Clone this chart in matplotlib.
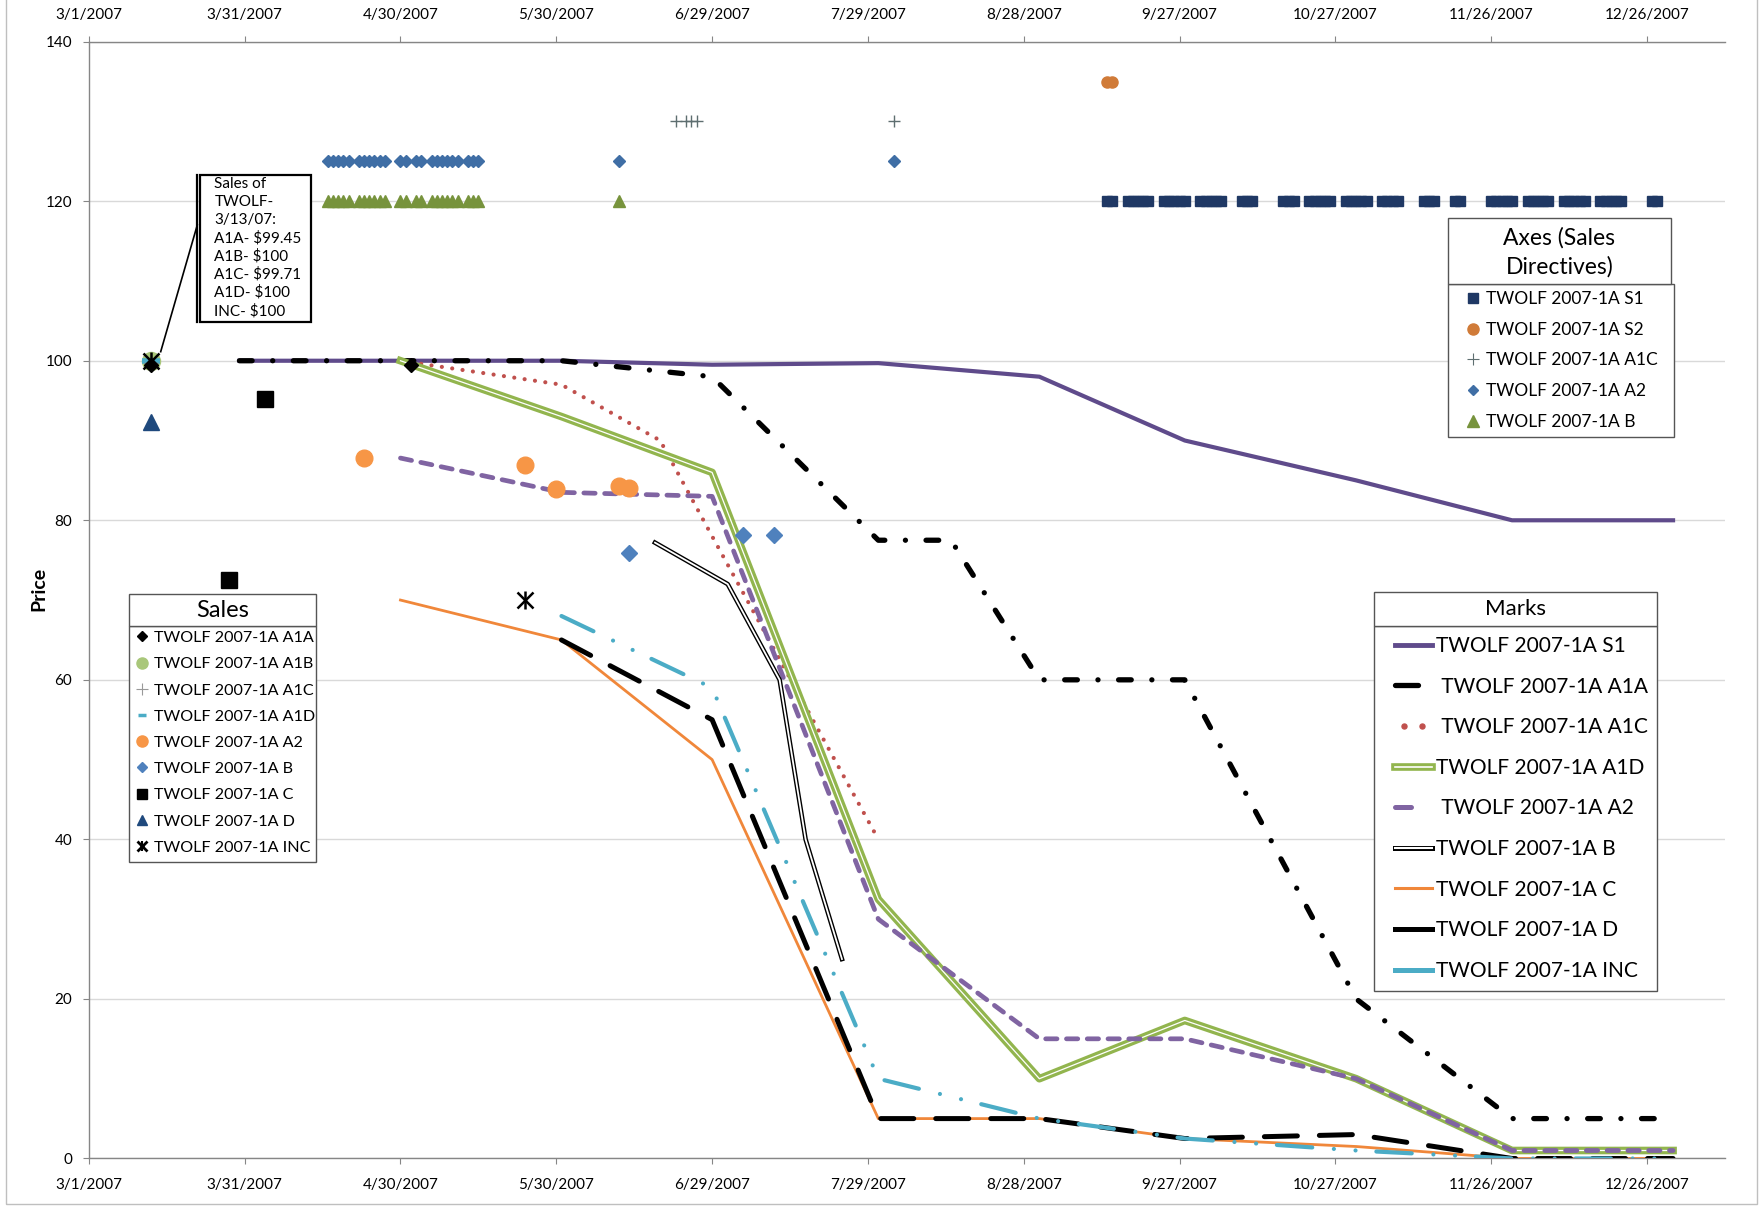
import matplotlib
matplotlib.use('Agg')
import matplotlib.pyplot as plt
from matplotlib.lines import Line2D
from matplotlib.patches import Rectangle
from matplotlib.legend_handler import HandlerLine2D, HandlerTuple
import pandas as pd

plt.rcParams['font.family'] = ['Lato', 'DejaVu Sans']

# ---------------- data ----------------
tick_labels = ['3/1/2007', '3/31/2007', '4/30/2007', '5/30/2007', '6/29/2007', '7/29/2007',
               '8/28/2007', '9/27/2007', '10/27/2007', '11/26/2007', '12/26/2007']

# Marks (lines)
s1_dates = ['2007-03-30', '2007-04-30', '2007-05-31', '2007-06-29', '2007-07-31', '2007-08-31',
            '2007-09-28', '2007-10-31', '2007-11-30', '2007-12-31']
s1_vals = [100, 100, 100, 99.5, 99.7, 98, 90, 85, 80, 80]
a1a_dates = ['2007-03-30', '2007-04-30', '2007-05-31', '2007-06-29', '2007-07-31', '2007-08-14',
             '2007-08-31', '2007-09-28', '2007-10-31', '2007-11-30', '2007-12-31']
a1a_vals = [100, 100, 100, 98, 77.5, 77.5, 60, 60, 20, 5, 5]
a1c_dates = ['2007-04-30', '2007-05-31', '2007-06-19', '2007-06-29', '2007-07-31']
a1c_vals = [100, 97, 90, 78, 40]
a1d_dates = ['2007-04-30', '2007-05-31', '2007-06-29', '2007-07-31', '2007-08-31', '2007-09-28',
             '2007-10-31', '2007-11-30', '2007-12-31']
a1d_vals = [100, 93, 86, 32.5, 10, 17.3, 10, 1, 1]
a2_dates = a1d_dates
a2_vals = [87.8, 83.5, 83, 30, 15, 15, 10, 1, 1]
b_dates = ['2007-06-18', '2007-07-02', '2007-07-12', '2007-07-17', '2007-07-24']
b_vals = [77.2, 72, 60, 40, 25]
c_dates = a1d_dates
c_vals = [70, 65, 50, 5, 5, 2.5, 1.5, 0, 0]
d_dates = ['2007-05-31', '2007-06-29', '2007-07-31', '2007-08-31', '2007-09-28', '2007-10-31',
           '2007-11-30', '2007-12-31']
d_vals = [65, 55, 5, 5, 2.5, 3, 0, 0]
inc_dates = d_dates
inc_vals = [68, 59, 10, 5, 2.5, 1, 0, 0]

# Sales (markers)
sale_a1a_dates = ['2007-03-13', '2007-05-02']
sale_a1a_vals = [99.45, 99.5]
sale_a1b_dates = ['2007-03-13']
sale_a1b_vals = [100]
sale_a1c_dates = ['2007-03-13']
sale_a1c_vals = [99.71]
sale_a1d_dates = ['2007-03-13']
sale_a1d_vals = [100]
sale_a2_dates = ['2007-04-23', '2007-05-24', '2007-05-30', '2007-06-11', '2007-06-13']
sale_a2_vals = [87.8, 86.9, 83.9, 84.3, 84]
sale_b_dates = ['2007-06-13', '2007-07-05', '2007-07-11']
sale_b_vals = [75.9, 78.1, 78.1]
sale_c_dates = ['2007-03-28', '2007-04-04']
sale_c_vals = [72.5, 95.2]
sale_d_dates = ['2007-03-13']
sale_d_vals = [92.3]
sale_inc_dates = ['2007-03-13', '2007-05-24']
sale_inc_vals = [100, 70]

# Axes (sales directives) - level markers
ax_s1_level = 120
ax_s1_dates = ['09-13', '09-14',
               '09-17', '09-18', '09-19', '09-20', '09-21',
               '09-24', '09-25', '09-26', '09-27', '09-28',
               '10-01', '10-02', '10-03', '10-04', '10-05',
               '10-09', '10-10', '10-11',
               '10-17', '10-18', '10-19',
               '10-22', '10-23', '10-24', '10-25', '10-26',
               '10-29', '10-30', '10-31', '11-01', '11-02',
               '11-05', '11-06', '11-07', '11-08',
               '11-13', '11-14', '11-15',
               '11-19', '11-20',
               '11-26', '11-27', '11-28', '11-29', '11-30',
               '12-03', '12-04', '12-05', '12-06', '12-07',
               '12-10', '12-11', '12-12', '12-13', '12-14',
               '12-17', '12-18', '12-19', '12-20', '12-21',
               '12-27', '12-28']
ax_s2_level = 135
ax_s2_dates = ['09-13', '09-14']
ax_a1c_level = 130
ax_a1c_dates = ['06-22', '06-24', '06-25', '06-26', '08-03']
ax_a2_level = 125
ax_a2_dates = ['04-16', '04-17', '04-18', '04-19', '04-20',
               '04-22', '04-23', '04-24', '04-25', '04-26', '04-27',
               '04-30', '05-01', '05-03', '05-04',
               '05-06', '05-07', '05-08', '05-09', '05-10', '05-11',
               '05-13', '05-14', '05-15', '06-11', '08-03']
ax_b_level = 120
ax_b_dates = ['04-16', '04-17', '04-18', '04-19', '04-20',
              '04-22', '04-23', '04-24', '04-25', '04-26', '04-27',
              '04-30', '05-01', '05-03', '05-04',
              '05-06', '05-07', '05-08', '05-09', '05-10', '05-11',
              '05-13', '05-14', '05-15', '06-11']

note_lines = ['Sales of', 'TWOLF-', '3/13/07:', 'A1A- $99.45', 'A1B- $100',
              'A1C- $99.71', 'A1D- $100', 'INC- $100']

sales_labels = ['TWOLF 2007-1A A1A', 'TWOLF 2007-1A A1B', 'TWOLF 2007-1A A1C',
                'TWOLF 2007-1A A1D', 'TWOLF 2007-1A A2', 'TWOLF 2007-1A B',
                'TWOLF 2007-1A C', 'TWOLF 2007-1A D', 'TWOLF 2007-1A INC']
marks_labels = ['TWOLF 2007-1A S1', ' TWOLF 2007-1A A1A', ' TWOLF 2007-1A A1C',
                'TWOLF 2007-1A A1D', ' TWOLF 2007-1A A2', 'TWOLF 2007-1A B',
                'TWOLF 2007-1A C', 'TWOLF 2007-1A D', 'TWOLF 2007-1A INC']
axes_labels = ['TWOLF 2007-1A S1', 'TWOLF 2007-1A S2', 'TWOLF 2007-1A A1C',
               'TWOLF 2007-1A A2', 'TWOLF 2007-1A B']


def dt(lst):
    return pd.to_datetime(lst)


def dt07(lst):
    return pd.to_datetime(['2007-' + s for s in lst])


class ShortLine(HandlerLine2D):
    # legend sample that only covers the first part of the handle box
    def __init__(self, frac, **kw):
        super().__init__(**kw)
        self.frac = frac

    def get_xdata(self, legend, xdescent, ydescent, width, height, fontsize):
        xd, xm = super().get_xdata(legend, xdescent, ydescent, width, height, fontsize)
        return [xd[0], xd[0] + (xd[-1] - xd[0]) * self.frac], xm


# colours
PURPLE = '#5F4B8B'
RED = '#C0504D'
GREEN = '#92B54E'
LAV = '#8064A2'
ORANGE = '#F0873A'
TEAL = '#4BACC6'

W, H = 1762, 1207
fig = plt.figure(figsize=(W / 100, H / 100), dpi=100)
ax = fig.add_axes([0.0504, 0.0402, 0.9286, 0.9253])

# ---------------- marks (lines) ----------------
ax.plot(dt(s1_dates), s1_vals, color=PURPLE, lw=3, zorder=3)
ax.plot(dt(a1a_dates), a1a_vals, color='black', lw=3.8, dashes=(2.4, 3.9, 0.01, 3.9),
        dash_capstyle='round', zorder=4)
ax.plot(dt(a1c_dates), a1c_vals, color=RED, lw=3, dashes=(0.01, 2.5),
        dash_capstyle='round', zorder=4)
ax.plot(dt(a1d_dates), a1d_vals, color=GREEN, lw=5.5, zorder=4)
ax.plot(dt(a1d_dates), a1d_vals, color='white', lw=0.9, zorder=4)
ax.plot(dt(a2_dates), a2_vals, color=LAV, lw=3.4, dashes=(2.4, 2.0),
        dash_capstyle='round', zorder=5)
ax.plot(dt(b_dates), b_vals, color='black', lw=3.3, zorder=5)
ax.plot(dt(b_dates), b_vals, color='white', lw=1.3, zorder=5)
ax.plot(dt(c_dates), c_vals, color=ORANGE, lw=2, zorder=5)
ax.plot(dt(d_dates), d_vals, color='black', lw=3.6, dashes=(6.6, 4.4),
        dash_capstyle='round', zorder=6)
ax.plot(dt(inc_dates), inc_vals, color=TEAL, lw=3, dashes=(8.5, 5.2, 0.01, 5.2, 0.01, 5.0),
        dash_capstyle='round', zorder=7)

# ---------------- axes (sales directives) ----------------
ax.plot(dt07(ax_s1_dates), [ax_s1_level] * len(ax_s1_dates), ls='none', marker='s',
        ms=7.5, color='#1F3864', zorder=8)
ax.plot(dt07(ax_s2_dates), [ax_s2_level] * len(ax_s2_dates), ls='none', marker='o',
        ms=8, color='#D07B38', zorder=8)
ax.plot(dt07(ax_a1c_dates), [ax_a1c_level] * len(ax_a1c_dates), ls='none', marker='+',
        ms=8, mew=1, color='#5E6E70', zorder=8)
ax.plot(dt07(ax_a2_dates), [ax_a2_level] * len(ax_a2_dates), ls='none', marker='D',
        ms=6, color='#3F6EA5', zorder=8)
ax.plot(dt07(ax_b_dates), [ax_b_level] * len(ax_b_dates), ls='none', marker='^',
        ms=8, color='#77933C', zorder=8)

# ---------------- sales (markers) ----------------
ax.plot(dt(sale_a1b_dates), sale_a1b_vals, ls='none', marker='o', ms=13, color='#A9C77A', zorder=9)
ax.plot(dt(sale_a1d_dates), sale_a1d_vals, ls='none', marker='_', ms=13, mew=4, color=TEAL, zorder=9)
ax.plot(dt(sale_a1c_dates), sale_a1c_vals, ls='none', marker='+', ms=10, mew=1, color='#888888', zorder=9)
ax.plot(dt(sale_a1a_dates), sale_a1a_vals, ls='none', marker='D', ms=7.5, color='black', zorder=9)
ax.plot(dt(sale_a2_dates), sale_a2_vals, ls='none', marker='o', ms=12, color='#F79646', zorder=9)
ax.plot(dt(sale_b_dates), sale_b_vals, ls='none', marker='D', ms=8, color='#4F81BD', zorder=9)
ax.plot(dt(sale_c_dates), sale_c_vals, ls='none', marker='s', ms=12, color='black', zorder=9)
ax.plot(dt(sale_d_dates), sale_d_vals, ls='none', marker='^', ms=12, color='#1F497D', zorder=9)
ax.plot(dt(sale_inc_dates), sale_inc_vals, ls='none', marker='x', ms=11, mew=1.8,
        color='black', zorder=10)
ax.plot(dt(sale_inc_dates), sale_inc_vals, ls='none', marker='|', ms=13, mew=1.8,
        color='black', zorder=10)

# ---------------- axes styling ----------------
ax.set_xlim(pd.Timestamp('2007-03-01'), pd.Timestamp('2008-01-10'))
ax.set_ylim(0, 140)
ax.set_yticks(range(0, 141, 20))
ax.set_xticks(pd.to_datetime(tick_labels, format='%m/%d/%Y'))
ax.set_xticklabels(tick_labels)
ax.tick_params(axis='x', top=True, labeltop=True, length=4, color='#868686',
               labelsize=11, pad=10)
ax.tick_params(axis='y', length=4, color='#868686', labelsize=11, pad=8)
ax.grid(axis='y', color='#D9D9D9', lw=1)
ax.set_axisbelow(True)
for side in ['left', 'bottom', 'top']:
    ax.spines[side].set_color('#868686')
    ax.spines[side].set_linewidth(1)
ax.spines['right'].set_visible(False)
fig.text(0.0222, 0.512, 'Price', rotation=90, ha='center', va='center',
         fontsize=14, fontweight='bold')

# chart border
fig.add_artist(Rectangle((0.0032, 0.0025), 0.9938, 1.1, transform=fig.transFigure,
                         fill=False, edgecolor='#BFBFBF', lw=1))


def box(x0, y0, x1, y1, lw=1.0, ec='black'):
    fig.add_artist(Rectangle((x0, y0), x1 - x0, y1 - y0, transform=fig.transFigure,
                             facecolor='white', edgecolor=ec, lw=lw, zorder=20))


# ---------------- Sales legend ----------------
sales_handles = [
    Line2D([], [], ls='none', marker='D', ms=5, color='black'),
    Line2D([], [], ls='none', marker='o', ms=8, color='#A9C77A'),
    Line2D([], [], ls='none', marker='+', ms=9, mew=0.8, color='#999999'),
    Line2D([], [], ls='none', marker='_', ms=6, mew=2.5, color=TEAL),
    Line2D([], [], ls='none', marker='o', ms=8, color='#F79646'),
    Line2D([], [], ls='none', marker='D', ms=5, color='#4F81BD'),
    Line2D([], [], ls='none', marker='s', ms=7, color='black'),
    Line2D([], [], ls='none', marker='^', ms=7, color='#1F497D'),
    (Line2D([], [], ls='none', marker='x', ms=6.5, mew=2, color='black'),
     Line2D([], [], ls='none', marker='|', ms=7, mew=1.5, color='black')),
]
box(0.07333, 0.28592, 0.17923, 0.48144, ec='#555555')
box(0.07333, 0.48144, 0.17923, 0.50754, ec='#555555')
fig.text(0.12628, 0.49449, 'Sales', ha='center', va='center', fontsize=17, zorder=21)
leg = fig.legend(sales_handles, sales_labels, loc='center left',
                 bbox_to_anchor=(0.07696, 0.3846), bbox_transform=fig.transFigure,
                 frameon=False, fontsize=11.6, borderpad=0, borderaxespad=0,
                 handlelength=0.8, handletextpad=0.36, labelspacing=0.74)
leg.set_zorder(22)

# ---------------- Marks legend ----------------
h_a1a = Line2D([], [], color='black', lw=3.8, solid_capstyle='round')
h_a1c = (Line2D([], [], ls='none', marker='o', ms=3.6, color=RED),
         Line2D([], [], ls='none', marker='o', ms=3.6, color=RED))
h_a2 = Line2D([], [], color=LAV, lw=3.6, solid_capstyle='round')
marks_handles = [
    Line2D([], [], color=PURPLE, lw=3.5),
    h_a1a,
    h_a1c,
    (Line2D([], [], color=GREEN, lw=5.5), Line2D([], [], color='white', lw=1.2)),
    h_a2,
    (Line2D([], [], color='black', lw=3.6), Line2D([], [], color='white', lw=1.5)),
    Line2D([], [], color=ORANGE, lw=2.2),
    Line2D([], [], color='black', lw=3.6),
    Line2D([], [], color=TEAL, lw=3.6),
]
box(0.77997, 0.17887, 0.94069, 0.48144, ec='#555555')
box(0.77997, 0.48144, 0.94069, 0.50936, ec='#555555')
fig.text(0.86033, 0.49544, 'Marks', ha='center', va='center', fontsize=16, zorder=21)
leg = fig.legend(marks_handles, marks_labels, loc='center left',
                 bbox_to_anchor=(0.7917, 0.3302), bbox_transform=fig.transFigure,
                 frameon=False, fontsize=15, borderpad=0, borderaxespad=0,
                 handlelength=1.76, handletextpad=0.23, labelspacing=0.99,
                 handler_map={h_a1a: ShortLine(0.62), h_a2: ShortLine(0.45),
                              h_a1c: HandlerTuple(ndivide=2, pad=0)})
leg.set_zorder(22)

# ---------------- Axes legend ----------------
axes_handles = [
    Line2D([], [], ls='none', marker='s', ms=7, color='#1F3864'),
    Line2D([], [], ls='none', marker='o', ms=8, color='#D07B38'),
    Line2D([], [], ls='none', marker='+', ms=9, mew=0.8, color='#5E6E70'),
    Line2D([], [], ls='none', marker='D', ms=5, color='#3F6EA5'),
    Line2D([], [], ls='none', marker='^', ms=8, color='#77933C'),
]
box(0.82196, 0.63770, 0.94989, 0.76446, ec='#555555')
box(0.82196, 0.76446, 0.94818, 0.81914, ec='#555555')
fig.text(0.88496, 0.80257, 'Axes (Sales', ha='center', va='center', fontsize=16.5, zorder=21)
fig.text(0.88496, 0.77854, 'Directives)', ha='center', va='center', fontsize=16.5, zorder=21)
leg = fig.legend(axes_handles, axes_labels, loc='center left',
                 bbox_to_anchor=(0.83207, 0.70133), bbox_transform=fig.transFigure,
                 frameon=False, fontsize=12.5, borderpad=0, borderaxespad=0,
                 handlelength=0.8, handletextpad=0.33, labelspacing=0.85)
leg.set_zorder(22)

# ---------------- annotation ----------------
fig.add_artist(Line2D([0.11197, 0.09120], [0.81359, 0.70862], transform=fig.transFigure,
                      color='black', lw=1.2, zorder=19))
box(0.11351, 0.73347, 0.17633, 0.85501, lw=1.6)
fig.add_artist(Line2D([0.11180, 0.11180], [0.73347, 0.85501], transform=fig.transFigure,
                      color='black', lw=1.6, zorder=21))
for i, line in enumerate(note_lines):
    fig.text(0.12162, 1 - (183.5 + 18.2 * i) / H, line, ha='left', va='center',
             fontsize=11, zorder=22)

fig.savefig('out.png', dpi=100)
